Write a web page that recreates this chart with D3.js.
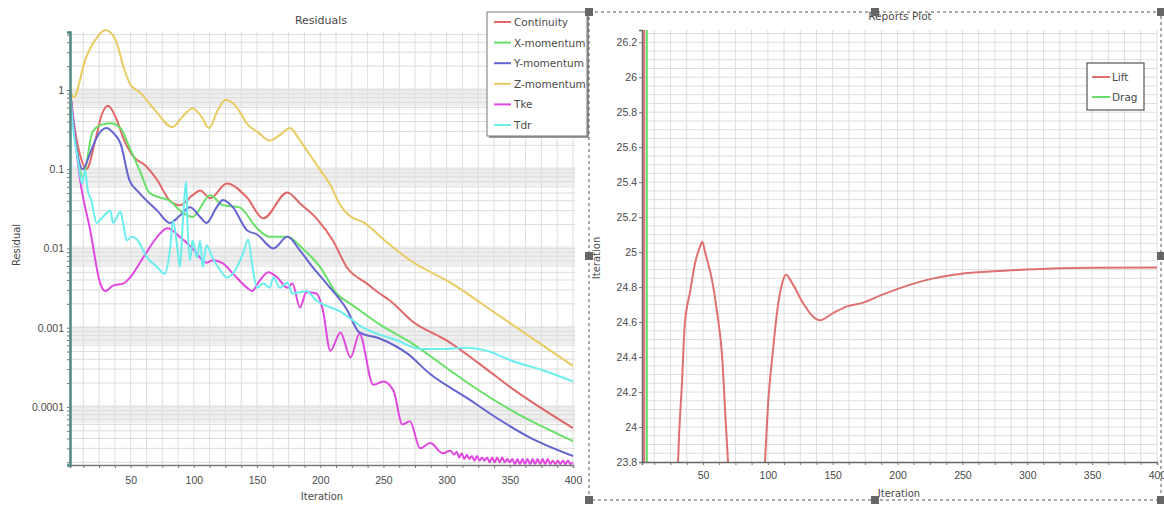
<!DOCTYPE html>
<html>
<head>
<meta charset="utf-8">
<script src="https://cdn.jsdelivr.net/npm/d3@7"></script>
<style>
  body { margin: 0; background: #fff; }
  svg { display: block; font-family: "DejaVu Sans", sans-serif; }
  .tick text { fill: #4a4a4a; font-size: 10.5px; }
</style>
</head>
<body>
<svg id="chart" width="1164" height="506"></svg>
<script>
// ---- residuals data: [iteration, residual] ----
const continuity = [[2,1.0],[6,0.31],[10,0.15],[15,0.10],[22,0.23],[27,0.48],[32,0.63],[38,0.46],[45,0.23],[53,0.14],[62,0.11],[71,0.073],[81,0.04],[89,0.035],[99,0.047],[105,0.054],[113,0.043],[126,0.066],[142,0.044],[155,0.024],[174,0.051],[184,0.037],[197,0.024],[210,0.0126],[221,0.0058],[237,0.0036],[247,0.0027],[255,0.0022],[273,0.0012],[300,0.00069],[326,0.00035],[352,0.00017],[400,0.000054]];
const xMomentum = [[2,1.0],[7,0.2],[12,0.08],[20,0.3],[26,0.36],[34,0.38],[42,0.33],[49,0.19],[57,0.098],[65,0.05],[73,0.044],[81,0.04],[89,0.030],[99,0.025],[113,0.047],[123,0.035],[136,0.033],[150,0.018],[160,0.014],[174,0.014],[186,0.010],[200,0.0058],[213,0.0027],[226,0.0019],[247,0.0011],[273,0.00063],[300,0.00031],[326,0.00016],[352,0.000089],[400,0.000037]];
const yMomentum = [[2,1.0],[7.5,0.17],[12,0.10],[18,0.16],[23,0.25],[31,0.33],[36,0.29],[42,0.21],[49,0.073],[57,0.05],[71,0.030],[81,0.021],[89,0.026],[97,0.033],[105,0.025],[110,0.021],[118,0.033],[123,0.041],[131,0.033],[142,0.017],[150,0.015],[163,0.010],[174,0.014],[184,0.0094],[194,0.0058],[205,0.0036],[221,0.0017],[231,0.00087],[247,0.00073],[269,0.00047],[287,0.00026],[316,0.00013],[340,0.000072],[366,0.000041],[400,0.000024]];
const zMomentum = [[2,1.0],[5,0.81],[14,2.4],[23,4.5],[30,5.7],[38,4.3],[45,1.8],[50,1.15],[57,0.94],[69,0.56],[83,0.34],[91,0.46],[99,0.59],[106,0.46],[112,0.33],[119,0.56],[125,0.75],[133,0.63],[143,0.36],[151,0.29],[160,0.23],[168,0.27],[176,0.33],[184,0.23],[192,0.15],[200,0.098],[208,0.063],[216,0.035],[223,0.026],[235,0.021],[251,0.0126],[271,0.0071],[303,0.0037],[342,0.0014],[400,0.00033]];
const tke = [[2,1.0],[10,0.073],[18,0.017],[26,0.0036],[30,0.0029],[36,0.0034],[44,0.0036],[49,0.0042],[60,0.0077],[71,0.014],[79,0.018],[89,0.014],[99,0.010],[110,0.0066],[115,0.0071],[123,0.0065],[131,0.0048],[142,0.0032],[146,0.0029],[152,0.0039],[159,0.005],[166,0.0043],[174,0.0032],[178,0.0036],[184,0.0018],[189,0.0028],[197,0.0027],[202,0.0017],[208,0.00051],[216,0.00087],[224,0.00042],[231,0.00084],[242,0.00019],[250,0.00021],[258,0.00016],[265,0.00006],[271,0.000066],[279,0.00003],[287,0.000035],[297,0.000026],[303,0.000028],[306,0.000025],[308,0.000027],[310,0.000023],[312,0.000026],[314,0.000022],[316,0.000025],[318,0.000022],[320,0.000024],[322,0.000021],[324,0.000024],[326,0.000021],[328,0.000023],[330,0.000021],[332,0.000023],[334,0.00002],[336,0.000023],[338,0.00002],[340,0.000023],[342,0.00002],[344,0.000023],[346,0.00002],[348,0.000022],[350,0.00002],[352,0.000022],[354,0.000019],[356,0.000022],[358,0.000019],[360,0.000022],[362,0.000019],[364,0.000022],[366,0.000019],[368,0.000022],[370,0.000019],[372,0.000022],[374,0.000019],[376,0.000022],[378,0.000019],[380,0.000022],[382,0.000019],[384,0.000021],[386,0.000019],[388,0.000021],[390,0.000019],[392,0.000021],[394,0.000019],[396,0.000021],[398,0.000019],[400,0.00002]];
const tdr = [[2,1.0],[4.4,0.34],[8.3,0.13],[11.5,0.066],[14,0.097],[16,0.054],[19,0.04],[23,0.021],[28,0.025],[34,0.030],[36,0.021],[42,0.029],[44,0.021],[47,0.0126],[51,0.014],[55,0.013],[63,0.0077],[71,0.0058],[77,0.0048],[81,0.0094],[83.5,0.022],[87,0.010],[89,0.0058],[91,0.018],[94,0.069],[95,0.020],[97,0.0071],[99,0.0126],[102.5,0.0077],[105,0.0126],[107,0.0058],[110,0.011],[115,0.0075],[121,0.0053],[126,0.0043],[131,0.0048],[139,0.0087],[143,0.013],[146,0.0065],[150,0.0032],[155,0.0036],[160,0.0032],[163,0.0043],[168,0.0032],[174,0.0037],[178,0.0027],[184,0.0028],[189,0.0029],[197,0.0022],[216,0.0016],[234,0.0010],[261,0.00069],[279,0.00054],[300,0.00054],[316,0.00056],[332,0.00051],[352,0.00038],[376,0.00029],[400,0.00021]];

const residualNames = ['Continuity','X-momentum','Y-momentum','Z-momentum','Tke','Tdr'];
const residualSeries = [continuity, xMomentum, yMomentum, zMomentum, tke, tdr];
const residualColors = ['#e06868','#68e068','#6464d0','#e8cc62','#e048e0','#6aeeee'];
const residualDecades = [1, 0.1, 0.01, 0.001, 0.0001];
const residualDecadeLabels = ['1','0.1','0.01','0.001','0.0001'];

// ---- reports data: [iteration, value] ----
const lift = [[4.6,60],[5.0,-40],[10,12],[20,19],[28,22.8],[30.8,23.8],[33.8,24.25],[36,24.59],[40,24.77],[44,24.94],[47.7,25.03],[49.5,25.06],[51.6,25.0],[57,24.84],[61,24.65],[65,24.38],[67,24.1],[69.3,23.8],[76,23.2],[83,23.0],[90,23.2],[97.8,23.8],[100,24.11],[104,24.44],[107,24.65],[111,24.82],[114,24.87],[119,24.82],[127,24.71],[135,24.63],[140,24.61],[150,24.65],[161,24.69],[173,24.71],[186,24.75],[196.5,24.78],[222,24.84],[248,24.875],[274,24.89],[300,24.9],[350,24.91],[400,24.912]];
const drag = [[6.6,60],[7.0,-40],[20,1.2],[400,1.1]];
const reportNames = ['Lift','Drag'];
const reportSeries = [lift, drag];
const reportColors = ['#e07070','#68dc68'];

const svg = d3.select('#chart');
const TXT = '#4a4a4a';

// ================= Residuals (left) =================
const xL = d3.scaleLinear().domain([2, 400]).range([70, 573]);
const yL = d3.scaleLog().domain([1.85e-5, 5.39]).range([465, 32]);
const left = svg.append('g').attr('id', 'residuals');

// shaded bands just below each decade
left.append('g').selectAll('rect')
  .data(residualDecades)
  .join('rect')
  .attr('x', 71).attr('width', 504)
  .attr('y', d => yL(d) - 2)
  .attr('height', d => yL(d * 0.62) - yL(d) + 2)
  .attr('fill', '#efefef');

// grid
const minorVals = [];
[-5, -4, -3, -2, -1, 0].forEach(k => {
  for (let m = 1; m <= 9; m++) {
    const v = m * Math.pow(10, k);
    if (v >= 1.85e-5 && v <= 5.39) minorVals.push(v);
  }
});
left.append('g').selectAll('line')
  .data(minorVals)
  .join('line')
  .attr('x1', 71).attr('x2', 575)
  .attr('y1', d => yL(d)).attr('y2', d => yL(d))
  .attr('stroke', '#dcdcdc').attr('stroke-width', 1);
const xGrid = d3.range(12.5, 400.1, 12.5);
left.append('g').selectAll('line')
  .data(xGrid)
  .join('line')
  .attr('x1', d => xL(d)).attr('x2', d => xL(d))
  .attr('y1', 32).attr('y2', 465)
  .attr('stroke', '#dedede').attr('stroke-width', 1);

// lines
const lineL = d3.line()
  .x(d => xL(d[0]))
  .y(d => yL(d[1]))
  .curve(d3.curveMonotoneX);
left.append('g').selectAll('path')
  .data(residualSeries)
  .join('path')
  .attr('d', lineL)
  .attr('fill', 'none')
  .attr('stroke', (d, i) => residualColors[i])
  .attr('stroke-width', 2);

// axes
left.append('g')
  .attr('transform', 'translate(0,465)')
  .call(d3.axisBottom(xL).tickValues(xGrid).tickFormat(d => d % 50 === 0 ? d : '').tickSize(3).tickPadding(9))
  .call(g => g.select('.domain').attr('stroke', '#777').attr('stroke-width', 1.5))
  .call(g => g.selectAll('.tick line').attr('stroke', '#777'));
left.append('g')
  .attr('transform', 'translate(70,0)')
  .call(d3.axisLeft(yL).tickValues(minorVals)
    .tickFormat(d => { const i = residualDecades.findIndex(v => Math.abs(v - d) / d < 1e-6); return i >= 0 ? residualDecadeLabels[i] : ''; })
    .tickSize(3).tickPadding(3))
  .call(g => g.select('.domain').attr('stroke', '#4f8884').attr('stroke-width', 2.5))
  .call(g => g.selectAll('.tick line').attr('stroke', '#777'));

left.append('text').text('Residuals')
  .attr('x', 321).attr('y', 24).attr('text-anchor', 'middle')
  .attr('font-size', 11).attr('fill', TXT);
left.append('text').text('Iteration')
  .attr('x', 322).attr('y', 500).attr('text-anchor', 'middle')
  .attr('font-size', 10).attr('fill', TXT);
left.append('text').text('Residual')
  .attr('transform', 'translate(20,245) rotate(-90)').attr('text-anchor', 'middle')
  .attr('font-size', 10).attr('fill', TXT);

// legend
const legL = left.append('g').attr('transform', 'translate(487,12)');
legL.append('rect').attr('x', 2).attr('y', 2).attr('width', 100).attr('height', 124).attr('fill', '#999');
legL.append('rect').attr('width', 100).attr('height', 124).attr('fill', '#fff').attr('stroke', '#777');
residualNames.forEach((name, i) => {
  const y = 10 + i * 20.6;
  legL.append('line').attr('x1', 7).attr('x2', 24).attr('y1', y).attr('y2', y)
    .attr('stroke', residualColors[i]).attr('stroke-width', 2);
  legL.append('text').text(name).attr('x', 27).attr('y', y + 4)
    .attr('font-size', 10.5).attr('fill', TXT);
});

// ================= Reports Plot (right) =================
const xR = d3.scaleLinear().domain([3, 400]).range([642, 1157]);
const yR = d3.scaleLinear().domain([23.8, 26.27]).range([462, 30]);
const right = svg.append('g').attr('id', 'reports');

svg.append('defs').append('clipPath').attr('id', 'clipR')
  .append('rect').attr('x', 642).attr('y', 30).attr('width', 516).attr('height', 432);

right.append('g').selectAll('line')
  .data(d3.range(23.85, 26.26, 0.05))
  .join('line')
  .attr('x1', 642).attr('x2', 1157)
  .attr('y1', d => yR(d)).attr('y2', d => yR(d))
  .attr('stroke', '#dedede');
right.append('g').selectAll('line')
  .data(xGrid)
  .join('line')
  .attr('x1', d => xR(d)).attr('x2', d => xR(d))
  .attr('y1', 30).attr('y2', 462)
  .attr('stroke', '#dedede');

const lineR = d3.line()
  .x(d => xR(d[0]))
  .y(d => yR(d[1]))
  .curve(d3.curveMonotoneX);
right.append('g').attr('clip-path', 'url(#clipR)')
  .selectAll('path')
  .data(reportSeries)
  .join('path')
  .attr('d', lineR)
  .attr('fill', 'none')
  .attr('stroke', (d, i) => reportColors[i])
  .attr('stroke-width', 2);

right.append('g')
  .attr('transform', 'translate(0,462)')
  .call(d3.axisBottom(xR).tickValues(xGrid).tickFormat(d => d % 50 === 0 ? d : '').tickSize(3).tickPadding(7))
  .call(g => g.select('.domain').attr('stroke', '#666').attr('stroke-width', 1.5))
  .call(g => g.selectAll('.tick line').attr('stroke', '#777'));
right.append('g')
  .attr('transform', 'translate(642,0)')
  .call(d3.axisLeft(yR).tickValues(d3.range(23.8, 26.21, 0.2)).tickFormat(d => String(+d.toFixed(1))).tickSize(3).tickPadding(2))
  .call(g => g.select('.domain').attr('stroke', '#666').attr('stroke-width', 1.5))
  .call(g => g.selectAll('.tick line').attr('stroke', '#777'));

right.append('text').text('Reports Plot')
  .attr('x', 900).attr('y', 20).attr('text-anchor', 'middle')
  .attr('font-size', 10.5).attr('fill', TXT);
right.append('text').text('Iteration')
  .attr('x', 899).attr('y', 497).attr('text-anchor', 'middle')
  .attr('font-size', 10).attr('fill', TXT);
right.append('text').text('Iteration')
  .attr('transform', 'translate(600,258) rotate(-90)').attr('text-anchor', 'middle')
  .attr('font-size', 10).attr('fill', TXT);

const legR = right.append('g').attr('transform', 'translate(1087,63)');
legR.append('rect').attr('width', 57).attr('height', 47).attr('fill', '#fff').attr('stroke', '#555').attr('stroke-width', 1.2);
reportNames.forEach((name, i) => {
  const y = 14 + i * 20;
  legR.append('line').attr('x1', 5).attr('x2', 23).attr('y1', y).attr('y2', y)
    .attr('stroke', reportColors[i]).attr('stroke-width', 2);
  legR.append('text').text(name).attr('x', 25).attr('y', y + 4)
    .attr('font-size', 10.5).attr('fill', TXT);
});

// selection frame with handles
svg.append('rect')
  .attr('x', 589).attr('y', 12).attr('width', 572).attr('height', 488)
  .attr('fill', 'none').attr('stroke', '#555').attr('stroke-dasharray', '3,3');
const handles = [[589,12],[875,12],[1161,12],[589,256],[1161,256],[589,500],[875,500],[1161,500]];
svg.append('g').selectAll('rect')
  .data(handles)
  .join('rect')
  .attr('x', d => d[0] - 4).attr('y', d => d[1] - 4)
  .attr('width', 8).attr('height', 8)
  .attr('fill', '#666');
</script>
</body>
</html>
